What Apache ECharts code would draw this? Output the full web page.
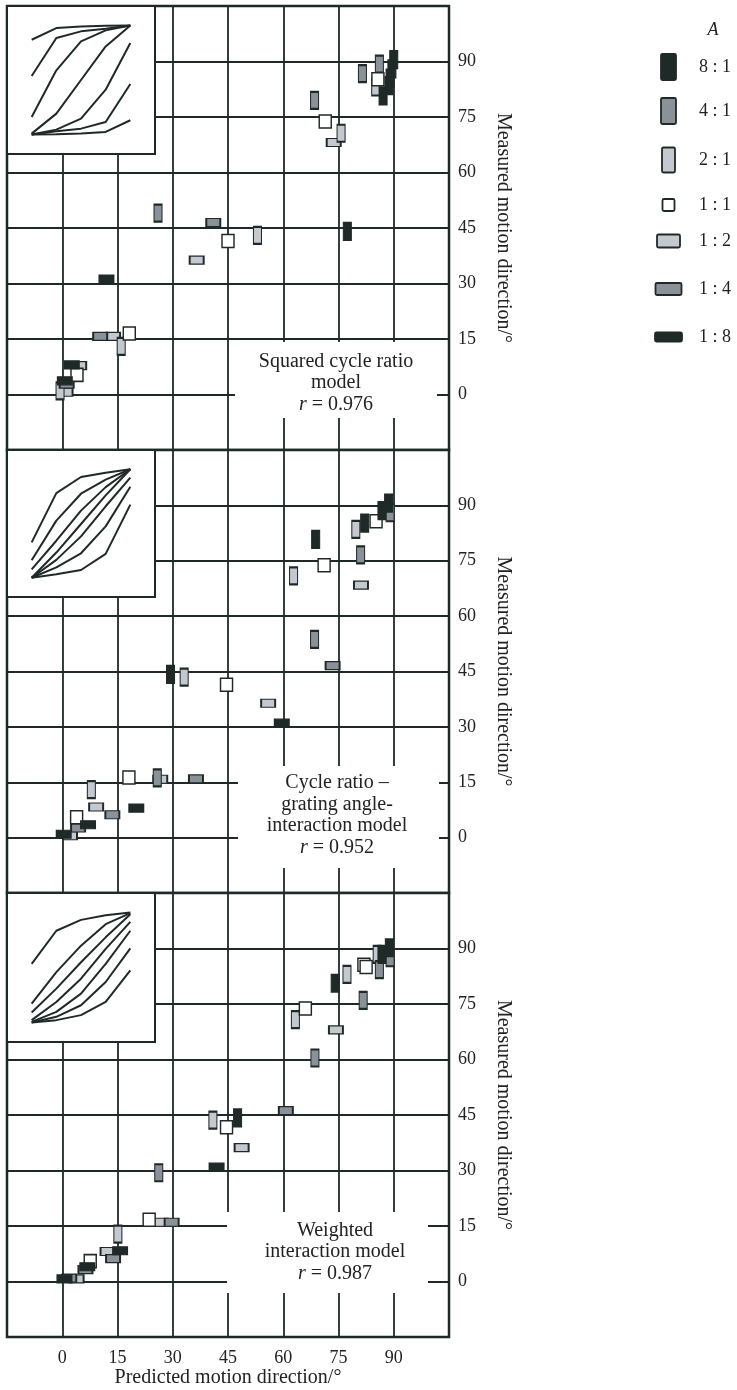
<!DOCTYPE html>
<html><head><meta charset="utf-8">
<script src="https://cdn.jsdelivr.net/npm/echarts@6/dist/echarts.min.js"></script>
<style>html,body{margin:0;padding:0;background:#fff}#c{width:737px;height:1390px}</style>
</head><body><div id="c"></div>
<script>
// ---------- data ----------
const ratios = ['8:1','4:1','2:1','1:1','1:2','1:4','1:8'];
const xTicks = [0,15,30,45,60,75,90];
const yTicks = [0,15,30,45,60,75,90];
const modelNames = ['Squared cycle ratio\nmodel', 'Cycle ratio \u2013\ngrating angle-\ninteraction model', 'Weighted\ninteraction model'];
const rValues = ['0.976','0.952','0.987'];

// [ratio, predicted, measured]
const panel1 = [
  ['4:1',26,49],['1:4',41,46.5],['1:1',45,41.5],['2:1',53,43],['1:2',36.5,36.3],['8:1',77.4,44.1],
  ['1:8',12,31.2],['1:4',10.3,15.7],['1:2',13.8,15.7],['1:1',18.2,16.5],['2:1',16,13],
  ['1:8',2.6,8],['1:2',4.6,7.8],['1:1',4,5.3],['1:8',0.7,3.7],['1:4',1.2,2.8],['2:1',-0.6,1],['1:2',0.9,0.6],
  ['4:1',68.5,79.5],['1:1',71.4,73.8],['2:1',75.7,70.6],['1:2',73.7,68.1],['4:1',81.5,86.7],['4:1',86.1,89.3],
  ['1:1',85.7,85.2],['2:1',85.1,83.1],['8:1',87.1,80.7],['8:1',88.7,83.5],['8:1',89,85.5],['8:1',89.5,88],['8:1',90,90.5]
];
const panel2 = [
  ['8:1',68.8,80.8],['1:1',71.1,73.8],['2:1',62.8,70.9],['2:1',79.7,83.5],['8:1',82.1,85.2],['4:1',81,76.6],
  ['1:2',81.1,68.4],['1:1',85.2,85.7],['4:1',89,88],['8:1',86.8,88.6],['8:1',88.6,90.6],['4:1',68.5,53.7],
  ['1:4',73.4,46.6],['8:1',29.4,44.2],['2:1',33.1,43.5],['1:1',44.6,41.4],['1:2',55.9,36.4],['1:8',59.6,31],
  ['1:1',18.1,16.3],['1:2',26.6,15.8],['4:1',25.8,16.2],['1:4',36.3,15.9],['2:1',7.9,13],['1:2',9.2,8.3],
  ['1:8',20.1,8],['1:4',13.6,6.2],['1:1',3.9,5.5],['1:8',7,3.5],['1:4',4.3,2.6],['1:8',0.4,0.9],['1:2',2.1,0.5]
];
const panel3 = [
  ['4:1',89,87.5],['2:1',85.5,88.4],['8:1',86.8,88.4],['8:1',88.8,90.2],['4:1',86.1,84.3],['1:1',81.9,85.6],
  ['1:1',82.5,85.0],['2:1',77.3,83],['8:1',74.1,80.6],['4:1',81.7,76],['1:1',66,73.8],['2:1',63.3,70.8],
  ['1:2',74.3,68],['4:1',68.6,60.4],['1:4',60.7,46.2],['2:1',40.9,43.6],['8:1',47.6,44.2],['1:1',44.6,41.7],
  ['1:2',48.7,36.2],['1:8',41.9,30.9],['4:1',26.2,29.4],['1:1',23.6,16.7],['1:2',26.7,16],['1:4',29.7,16],
  ['2:1',15.1,12.8],['1:2',12.3,8.1],['1:8',15.7,8.3],['1:4',13.8,6.2],['1:1',7.6,5.5],['1:8',6.8,4],
  ['1:4',6.3,3.2],['1:8',0.6,0.7],['1:4',1.9,0.9],['1:2',3.9,0.7]
];

// inset curves: grating angle vs predicted direction, one curve per A
const insetX = [0,22.5,45,67.5,90];
const inset1 = [[78.2,87.8,89.2,89.7,90],[48.3,79.6,85.1,87.3,90],[14.5,53,76.8,85.9,90],[0.8,17.3,45,72.7,90],[0,4.1,13.2,37,75.5],[0,2.7,4.9,10.4,41.7],[0,0.3,0.8,2.2,11.8]];
const inset2 = [[29.3,70.2,83.6,87.2,90],[14.5,47.4,69.7,81.4,90],[7,30.7,55.7,75.2,90],[0,20.9,44.6,68.3,90],[0,14.8,34.3,59.3,83],[0,8.6,20.3,42.6,75.5],[0,2.8,6.4,19.8,60.7]];
const inset3 = [[48,75.1,84,87.8,90],[15.5,41.2,62.9,80.5,89.5],[8.1,27.7,49.3,69.7,88.6],[1.9,16.8,35.8,60.2,82.4],[0.5,8.7,23.6,48,75.1],[0,4.6,14.1,33.1,60.7],[0,1.9,6,16.8,42.6]];

// ---------- style ----------
const INK = '#1f2a28';
const FONT = 'Liberation Serif';
const fills = {'8:1':INK,'4:1':'#8a9199','2:1':'#c4c9d0','1:1':'#ffffff','1:2':'#c4c9d0','1:4':'#8a9199','1:8':INK};
const sizes = {'8:1':[8,17],'4:1':[8,17],'2:1':[8,17],'1:1':[12,13],'1:2':[14,8],'1:4':[14,8],'1:8':[14,8]};
const drawOrder = ['1:2','2:1','1:4','4:1','1:1','1:8','8:1'];

const mainTops = [6, 450, 893];
const mainHeights = [444, 443, 444];
const panels = [panel1, panel2, panel3];
const insets = [inset1, inset2, inset3];
const insetBoxes = [[6,148],[450,147],[893,149]];

const grids = [], xAxes = [], yAxes = [], series = [];
for (let p = 0; p < 3; p++) {
  grids.push({left:7, top:mainTops[p], width:442, height:mainHeights[p], show:true, containLabel:false,
    outerBoundsMode:'none',
    borderColor:INK, borderWidth:2.5, backgroundColor:'#fff', z:0});
  xAxes.push({type:'value', gridIndex:p, min:-15, max:105, interval:15,
    axisLine:{show:false}, axisTick:{show:false},
    splitLine:{show:true, lineStyle:{color:INK, width:1.8}},
    axisLabel:{show:p===2, margin:12, color:'#222', fontFamily:FONT, fontSize:18,
      formatter:v => xTicks.includes(v) ? String(v) : ''},
    name: p===2 ? 'Predicted motion direction/\u00b0' : '',
    nameLocation:'middle', nameGap:31,
    nameTextStyle:{color:'#222', fontFamily:FONT, fontSize:20}
  });
  yAxes.push({type:'value', gridIndex:p, position:'right', min:-15, max:105, interval:15,
    axisLine:{show:false}, axisTick:{show:false},
    splitLine:{show:true, lineStyle:{color:INK, width:1.8}},
    axisLabel:{margin:9, color:'#222', fontFamily:FONT, fontSize:18,
      formatter:v => yTicks.includes(v) ? String(v) : ''},
    name:'Measured motion direction/\u00b0', nameLocation:'middle', nameRotate:-90, nameGap:44,
    nameTextStyle:{color:'#222', fontFamily:FONT, fontSize:20}
  });
  drawOrder.forEach(r => {
    series.push({type:'scatter', xAxisIndex:p, yAxisIndex:p, symbol:'rect', symbolSize:sizes[r],
      itemStyle:{color:fills[r], borderColor:INK, borderWidth:1.5, opacity:1},
      data: panels[p].filter(d => d[0]===r).map(d => [d[1], d[2]]), z:3, silent:true});
  });
}
// inset grids
for (let p = 0; p < 3; p++) {
  const gi = 3 + p;
  grids.push({left:7, top:insetBoxes[p][0], width:148, height:insetBoxes[p][1], show:true, containLabel:false,
    outerBoundsMode:'none',
    borderColor:INK, borderWidth:2, backgroundColor:'#fff', z:10});
  xAxes.push({type:'value', gridIndex:gi, min:-22.5, max:112.5, show:false});
  yAxes.push({type:'value', gridIndex:gi, min:-16, max:106, show:false});
  insets[p].forEach(c => {
    series.push({type:'line', xAxisIndex:gi, yAxisIndex:gi, symbol:'none', silent:true, z:12,
      lineStyle:{color:INK, width:2}, data: insetX.map((x,i) => [x, c[i]])});
  });
}

// annotation boxes & legend
const boxes = [[235,342,202,76,336,383],[238,766,201,102,337,815],[227,1212,201,81,335,1252]];
const graphic = [];
boxes.forEach((b, p) => {
  graphic.push({type:'rect', shape:{x:b[0], y:b[1], width:b[2], height:b[3]}, style:{fill:'#fff'}, z:20, silent:true});
  graphic.push({type:'text', x:b[4], y:b[5], z:21, silent:true,
    style:{text: modelNames[p] + '\n{i|r} = ' + rValues[p], align:'center', verticalAlign:'middle',
      fontFamily:FONT, fontSize:20, lineHeight:21.5, fill:'#222',
      rich:{i:{fontStyle:'italic', fontFamily:FONT, fontSize:20, lineHeight:21.5}}}});
});
const legendY = [67, 111, 160, 205, 241, 289, 337];
const legendSize = {'8:1':[15,26],'4:1':[15,26],'2:1':[13,25],'1:1':[12,12],'1:2':[23,13],'1:4':[26,12],'1:8':[27,9]};
graphic.push({type:'text', x:713, y:30, style:{text:'A', fontFamily:FONT, fontSize:18, fontStyle:'italic', align:'center', verticalAlign:'middle', fill:'#222'}});
ratios.forEach((r, i) => {
  const s = legendSize[r];
  graphic.push({type:'rect', shape:{x:668.5 - s[0]/2, y:legendY[i] - s[1]/2, width:s[0], height:s[1], r:1.5},
    style:{fill:fills[r], stroke:INK, lineWidth:1.8}});
  graphic.push({type:'text', x:699, y:legendY[i], style:{text:r.replace(':',' : '), fontFamily:FONT, fontSize:18,
    align:'left', verticalAlign:'middle', fill:'#222'}});
});

const chart = echarts.init(document.getElementById('c'), null, {renderer:'canvas'});
chart.setOption({
  animation:false,
  backgroundColor:'#fff',
  grid:grids, xAxis:xAxes, yAxis:yAxes, series:series, graphic:graphic
});
</script>
</body></html>
